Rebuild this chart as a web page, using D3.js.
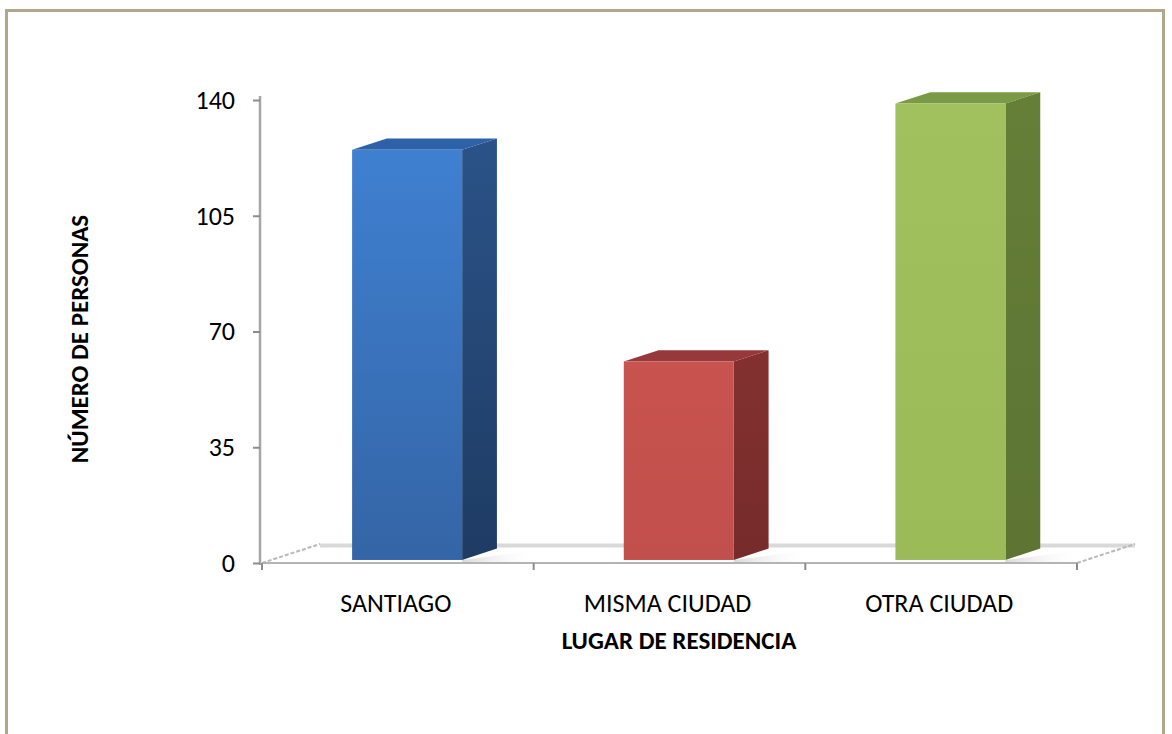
<!DOCTYPE html>
<html>
<head>
<meta charset="utf-8">
<script src="https://cdn.jsdelivr.net/npm/d3@7"></script>
<style>
  html, body { margin: 0; padding: 0; background: #fff; }
  svg { display: block; font-family: Carlito, Calibri, Lato, sans-serif; }
</style>
</head>
<body>
<svg id="chart" width="1172" height="734"></svg>
<script>
// data
const categories = ['SANTIAGO', 'MISMA CIUDAD', 'OTRA CIUDAD']
const personas = [124, 60, 138]
const yTicks = [0, 35, 70, 105, 140]

const palette = [
  { front: ['#3f80d1', '#3465a6'], side: ['#2b5388', '#1e3b63'], top: '#2e62a8' },
  { front: ['#c8534f', '#c14f4b'], side: ['#823130', '#762b2a'], top: '#97393a' },
  { front: ['#a0c15d', '#9bba58'], side: ['#657e38', '#5d7433'], top: '#7a9a45' }
]

const svg = d3.select('#chart')
const defs = svg.append('defs')

// plot box (front plane)
const x0 = 262, x1 = 1077, yTop = 100, yBase = 563
const depth = [58, -19]          // oblique offset of the whole floor
const f0 = 0.16, f1 = 0.76       // bar front / back as fraction of floor depth

const x = d3.scaleBand().domain(categories).range([x0, x1]).paddingInner(0).paddingOuter(0)
const y = d3.scaleLinear().domain([0, 140]).range([yBase, yTop])
const barW = x.bandwidth() * 0.405
const fs = 25

// outer frame
svg.append('rect')
  .attr('x', 6.5).attr('y', 10.5).attr('width', 1157).attr('height', 740)
  .attr('fill', 'none').attr('stroke', '#b1a78d').attr('stroke-width', 3)

// floor
const fl = svg.append('g')
fl.append('line')
  .attr('x1', x0 + depth[0]).attr('y1', yBase + depth[1] + 1.5)
  .attr('x2', x1 + depth[0]).attr('y2', yBase + depth[1] + 1.5)
  .attr('stroke', '#d9d9d9').attr('stroke-width', 4)
fl.append('line')
  .attr('x1', x0).attr('y1', yBase).attr('x2', x0 + depth[0]).attr('y2', yBase + depth[1])
  .attr('stroke', '#b8b8b8').attr('stroke-width', 2).attr('stroke-dasharray', '4,2')
fl.append('line')
  .attr('x1', x1).attr('y1', yBase).attr('x2', x1 + depth[0]).attr('y2', yBase + depth[1])
  .attr('stroke', '#b8b8b8').attr('stroke-width', 2).attr('stroke-dasharray', '4,2')

// soft bar shadows on floor
const sh = defs.append('linearGradient').attr('id', 'shadow').attr('x1', 0).attr('x2', 1).attr('y1', 0).attr('y2', 0)
sh.append('stop').attr('offset', '0%').attr('stop-color', '#cfcfcf')
sh.append('stop').attr('offset', '100%').attr('stop-color', '#ffffff').attr('stop-opacity', 0)

// bars
categories.forEach((c, i) => {
  const fx = x(c) + (x.bandwidth() - barW) / 2 + depth[0] * f0
  const fy = yBase + depth[1] * f0
  const dx = depth[0] * (f1 - f0), dy = depth[1] * (f1 - f0)
  const h = yBase - y(personas[i])
  const topY = fy - h
  const col = palette[i]

  const gf = defs.append('linearGradient').attr('id', 'front' + i).attr('x1', 0).attr('x2', 0).attr('y1', 0).attr('y2', 1)
  gf.append('stop').attr('offset', '0%').attr('stop-color', col.front[0])
  gf.append('stop').attr('offset', '100%').attr('stop-color', col.front[1])
  const gs = defs.append('linearGradient').attr('id', 'side' + i).attr('x1', 0).attr('x2', 0).attr('y1', 0).attr('y2', 1)
  gs.append('stop').attr('offset', '0%').attr('stop-color', col.side[0])
  gs.append('stop').attr('offset', '100%').attr('stop-color', col.side[1])

  const g = svg.append('g')
  g.append('path')
    .attr('d', `M${fx + barW},${fy}L${fx + barW + dx + 40},${fy + dy + 2}L${fx + barW + dx + 40},${fy + 3}L${fx + barW},${fy + 3}Z`)
    .attr('fill', 'url(#shadow)').attr('opacity', 0.8)
  g.append('path')
    .attr('d', `M${fx},${topY}L${fx + dx},${topY + dy}L${fx + barW + dx},${topY + dy}L${fx + barW},${topY}Z`)
    .attr('fill', col.top)
  g.append('path')
    .attr('d', `M${fx + barW},${topY}L${fx + barW + dx},${topY + dy}L${fx + barW + dx},${fy + dy}L${fx + barW},${fy}Z`)
    .attr('fill', `url(#side${i})`)
  g.append('rect')
    .attr('x', fx).attr('y', topY).attr('width', barW).attr('height', h)
    .attr('fill', `url(#front${i})`)
})

// front floor edge
svg.append('line')
  .attr('x1', x0).attr('y1', yBase).attr('x2', x1).attr('y2', yBase)
  .attr('stroke', '#b4b4b4').attr('stroke-width', 2)

// y axis
const yAxis = svg.append('g')
  .attr('transform', `translate(${x0 - 2},0)`)
  .call(d3.axisLeft(y).tickValues(yTicks).tickSize(7).tickPadding(18))
yAxis.select('.domain').attr('stroke', '#a6a6a6').attr('stroke-width', 2.5)
  .attr('d', `M0,${yTop - 4}V${yBase + 2}`)
yAxis.selectAll('.tick line').attr('stroke', '#8c8c8c').attr('stroke-width', 2)
yAxis.selectAll('.tick text')
  .attr('font-size', fs + 1).attr('fill', '#000').attr('font-family', 'Carlito, Calibri, Lato, sans-serif')

// x axis ticks at category boundaries
svg.append('g').selectAll('line')
  .data(d3.range(categories.length + 1))
  .join('line')
  .attr('x1', d => x0 + d * x.bandwidth()).attr('x2', d => x0 + d * x.bandwidth())
  .attr('y1', yBase).attr('y2', yBase + 7)
  .attr('stroke', '#8c8c8c').attr('stroke-width', 2)

svg.append('g').selectAll('text')
  .data(categories)
  .join('text')
  .attr('x', d => x(d) + x.bandwidth() / 2 - 2)
  .attr('y', 612)
  .attr('text-anchor', 'middle')
  .attr('font-size', fs + 1)
  .text(d => d)

// axis titles
svg.append('text')
  .attr('x', 679).attr('y', 649)
  .attr('text-anchor', 'middle')
  .attr('font-size', fs).attr('font-weight', 'bold')
  .text('LUGAR DE RESIDENCIA')

svg.append('text')
  .attr('transform', 'translate(88,339) rotate(-90)')
  .attr('text-anchor', 'middle')
  .attr('font-size', fs).attr('font-weight', 'bold')
  .text('NÚMERO DE PERSONAS')
</script>
</body>
</html>
